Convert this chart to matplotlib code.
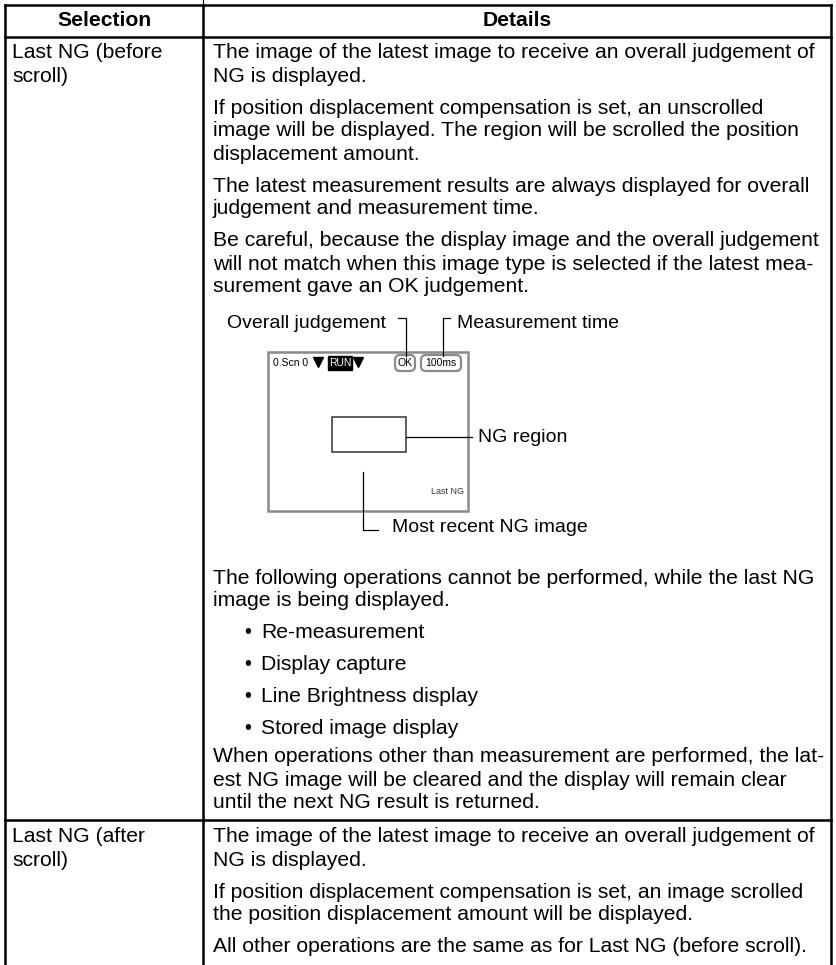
import matplotlib
matplotlib.use('Agg')
import matplotlib.pyplot as plt
from matplotlib.patches import Rectangle, FancyBboxPatch

plt.rcParams['font.family'] = ['Liberation Sans', 'DejaVu Sans']

# table content
headers = ['Selection', 'Details']
selections = [['Last NG (before', 'scroll)'], ['Last NG (after', 'scroll)']]

row1_top = [
    ['The image of the latest image to receive an overall judgement of',
     'NG is displayed.'],
    ['If position displacement compensation is set, an unscrolled',
     'image will be displayed. The region will be scrolled the position',
     'displacement amount.'],
    ['The latest measurement results are always displayed for overall',
     'judgement and measurement time.'],
    ['Be careful, because the display image and the overall judgement',
     'will not match when this image type is selected if the latest mea-',
     'surement gave an OK judgement.'],
]
row1_after = ['The following operations cannot be performed, while the last NG',
              'image is being displayed.']
bullets = ['Re-measurement', 'Display capture', 'Line Brightness display',
           'Stored image display']
row1_end = ['When operations other than measurement are performed, the lat-',
            'est NG image will be cleared and the display will remain clear',
            'until the next NG result is returned.']
row2 = [
    ['The image of the latest image to receive an overall judgement of',
     'NG is displayed.'],
    ['If position displacement compensation is set, an image scrolled',
     'the position displacement amount will be displayed.'],
    ['All other operations are the same as for Last NG (before scroll).'],
]

W, H = 836, 965
fig = plt.figure(figsize=(W / 100, H / 100), dpi=100)
ax = fig.add_axes([0, 0, 1, 1])
ax.set_xlim(0, W)
ax.set_ylim(H, 0)
ax.axis('off')

fs = 15.2
L = 23     # line step
P = 32     # paragraph step
B = 32     # bullet step
x_left, x_div, x_right = 5, 203, 831
x1, x2 = 12, 213
y_top, y_head = 5, 37

def txt(x, y, s, **kw):
    kw.setdefault('fontsize', fs)
    kw.setdefault('va', 'center')
    ax.text(x, y, s, **kw)

# header
for s, xc in zip(headers, [(x_left + x_div) / 2, (x_div + x_right) / 2]):
    txt(xc, 21, s, ha='center', fontweight='bold')

# row 1 text
y = 53
for line in selections[0]:
    txt(x1, y, line)
    y += L
y = 53
for i, para in enumerate(row1_top):
    if i > 0:
        y += P - L
    for line in para:
        txt(x2, y, line)
        y += L
y_last = y - L

# diagram
yl = y_last + 36
fd = 14
txt(227, yl, 'Overall judgement', fontsize=fd)
txt(457, yl, 'Measurement time', fontsize=fd)
bx0, bx1, by0, by1 = 268, 468, 352, 511
ax.add_patch(Rectangle((bx0, by0), bx1 - bx0, by1 - by0, fill=False,
                       ec='#8a8a8a', lw=1.8))
ax.plot([398, 406, 406], [yl - 5, yl - 5, 356], color='black', lw=0.9)
ax.plot([450, 443, 443], [yl - 5, yl - 5, 356], color='black', lw=0.9)
txt(273, 363, '0.Scn 0', fontsize=7.5)
ax.plot(318, 362, marker='v', color='black', ms=7)
ax.add_patch(Rectangle((328, 356), 24, 14, color='black'))
txt(340, 363, 'RUN', fontsize=7.5, color='white', ha='center')
ax.plot(358, 362, marker='v', color='black', ms=7)
ax.add_patch(FancyBboxPatch((398, 358), 14, 10, boxstyle='round,pad=3,rounding_size=5',
                            fill=False, ec='#8a8a8a', lw=1.6))
txt(405, 363, 'OK', fontsize=7.5, ha='center')
ax.add_patch(FancyBboxPatch((424, 358), 34, 10, boxstyle='round,pad=3,rounding_size=5',
                            fill=False, ec='#8a8a8a', lw=1.6))
txt(441, 363, '100ms', fontsize=7.5, ha='center')
ax.add_patch(Rectangle((332, 417), 74, 35, fill=False, ec='#333333', lw=1.1))
ax.plot([406, 472], [437, 437], color='black', lw=0.9)
txt(478, 437, 'NG region', fontsize=fd)
txt(464, 491, 'Last NG', fontsize=6.5, ha='right', color='#333333')
ax.plot([363, 363, 378], [472, 530, 530], color='black', lw=0.9)
txt(392, 528, 'Most recent NG image', fontsize=fd)

# rest of row 1
y = 578
for line in row1_after:
    txt(x2, y, line)
    y += L
y = y - L + B
for b in bullets:
    txt(244, y, '\u2022', fontsize=fs - 1)
    txt(261, y, b)
    y += B
y = y - B + 28
for line in row1_end:
    txt(x2, y, line)
    y += L
y_row2 = y - L + 17

# row 2
y = y_row2 + 17
for line in selections[1]:
    txt(x1, y, line)
    y += L
y = y_row2 + 17
for i, para in enumerate(row2):
    if i > 0:
        y += P - L
    for line in para:
        txt(x2, y, line)
        y += L

# grid lines
lw = 1.8
ax.plot([x_left, x_right], [y_top, y_top], color='black', lw=lw)
ax.plot([x_left, x_right], [y_head, y_head], color='black', lw=lw)
ax.plot([x_left, x_right], [y_row2, y_row2], color='black', lw=lw)
ax.plot([x_left, x_left], [y_top, H], color='black', lw=lw)
ax.plot([x_right, x_right], [y_top, H], color='black', lw=lw)
ax.plot([x_div, x_div], [y_top, H], color='black', lw=lw)
ax.plot([x_div, x_div], [0, y_top], color='black', lw=0.8)

fig.savefig('out.png', dpi=100)
